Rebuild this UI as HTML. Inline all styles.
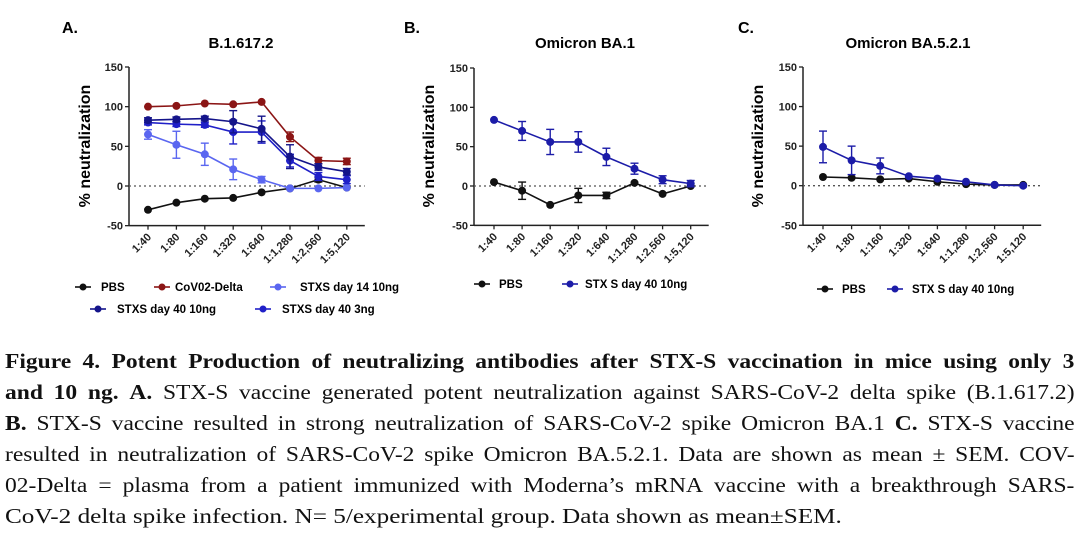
<!DOCTYPE html>
<html><head><meta charset="utf-8">
<style>
body{margin:0;background:#fff;width:1088px;height:560px;overflow:hidden;position:relative;font-family:"Liberation Sans",sans-serif}
svg{position:absolute;left:0;top:0}
.cap{position:absolute;left:5px;font-family:"Liberation Serif",serif;font-size:21px;color:#111;white-space:nowrap}
.j{width:955px;display:flex;justify-content:space-between;transform:scaleX(1.12);transform-origin:0 0}
.last{transform:scaleX(1.2);transform-origin:0 0}
</style></head><body>
<svg id="chart" width="1088" height="340"></svg>
<div class="cap j" style="top:349px"><b>Figure 4.&nbsp; Potent Production of neutralizing antibodies after STX-S vaccination in mice using only 3</b></div>
<div class="cap j" style="top:380px"><b>and 10 ng. A.</b> STX-S vaccine generated potent neutralization against SARS-CoV-2 delta spike (B.1.617.2)</div>
<div class="cap j" style="top:411px"><b>B.</b> STX-S vaccine resulted in strong neutralization of SARS-CoV-2 spike Omicron BA.1 <b>C.</b> STX-S vaccine</div>
<div class="cap j" style="top:442px">resulted in neutralization of SARS-CoV-2 spike Omicron BA.5.2.1. Data are shown as mean ± SEM. COV-</div>
<div class="cap j" style="top:473px">02-Delta = plasma from a patient immunized with Moderna’s mRNA vaccine with a breakthrough SARS-</div>
<div class="cap last" style="top:504px">CoV-2 delta spike infection. N= 5/experimental group. Data shown as mean±SEM.</div>
<script>
document.querySelectorAll('.j').forEach(line=>{
  const words=[];
  line.childNodes.forEach(n=>{
    const bold=n.nodeType===1;
    n.textContent.replace(/\u00a0/g,' ').split(/\s+/).filter(w=>w).forEach(w=>words.push({w,bold}));
  });
  line.innerHTML='';
  words.forEach(o=>{const s=document.createElement(o.bold?'b':'span');s.textContent=o.w;line.appendChild(s);});
});
</script>
<script>
const categories=["1:40","1:80","1:160","1:320","1:640","1:1,280","1:2,560","1:5,120"];
const yTicks=[150,100,50,0,-50];
const aPBS=[-30,-21,-16,-15,-8,-3,8,-2];
const aPBSerr=[2,2,2,2,2,2,3,2];
const aCov=[100,101,104,103,106,62,32,31];
const aCovErr=[2,2,2,2,2,6,4,4];
const aD14=[65,52,40,21,8,-3,-3,-2];
const aD14Err=[6,17,14,13,4,2,2,2];
const aD40h=[83,84,85,81,72,37,24,18];
const aD40hErr=[3,3,3,14,16,15,4,4];
const aD40l=[80,78,77,68,68,32,12,8];
const aD40lErr=[3,3,3,15,14,8,5,5];
const bPBS=[5,-6,-24,-12,-12,4,-10,0];
const bPBSerr=[1,11,1,9,4,1,1,1];
const bSTX=[84,70,56,56,37,22,8,3];
const bSTXerr=[2,12,16,13,11,7,5,4];
const cPBS=[11,10,8,9,5,2,1,1];
const cPBSerr=[1,1,1,1,1,1,1,1];
const cSTX=[49,32,25,12,9,5,1,0];
const cSTXerr=[20,18,10,2,2,1,1,1];

const NS="http://www.w3.org/2000/svg";
const svg=document.getElementById('chart');
function mk(tag,attrs,parent,text){const e=document.createElementNS(NS,tag);for(const k in attrs)e.setAttribute(k,attrs[k]);if(text!==undefined)e.textContent=text;(parent||svg).appendChild(e);return e;}

function panel(p){
  const g=mk('g',{});
  
  
  const y=v=>p.y0-(v*(p.y0-p.y150)/150);
  const x=i=>p.x0+i*p.step;
  const L=mk('text',{x:p.lx,y:33,'font-size':16,'font-weight':'bold'},g,p.letter);
  
  const T=mk('text',{x:p.tx,y:48,'font-size':15,'font-weight':'bold','text-anchor':'middle'},g,p.title);
  
  const ya=mk('line',{x1:p.ax,x2:p.ax,y1:y(150),y2:y(-50),stroke:'#222','stroke-width':1.5},g);
  
  const xa=mk('line',{x1:p.ax,x2:x(7)+18,y1:y(-50),y2:y(-50),stroke:'#222','stroke-width':1.5},g);
  
  yTicks.forEach(t=>{
    mk('line',{x1:p.ax-4,x2:p.ax,y1:y(t),y2:y(t),stroke:'#222','stroke-width':1.3},g);
    const tl=mk('text',{x:p.ax-6,y:y(t)+4,'font-size':11,'font-weight':'bold','text-anchor':'end',fill:'#222'},g,String(t));
    
  });
  const zl=mk('line',{x1:p.ax,x2:x(7)+18,y1:y(0),y2:y(0),stroke:'#555','stroke-width':1.3,'stroke-dasharray':'2,3'},g);
  
  categories.forEach((c,i)=>{
    mk('line',{x1:x(i),x2:x(i),y1:y(-50),y2:y(-50)+4,stroke:'#222','stroke-width':1.3},g);
    const tl=mk('text',{x:x(i)+4,y:y(-50)+12,'font-size':11,'font-weight':'bold','text-anchor':'end',fill:'#222',transform:`rotate(-45 ${x(i)+4} ${y(-50)+12})`},g,c);
    
  });
  const yt=mk('text',{x:p.yx,y:146,'font-size':16,'font-weight':'bold','text-anchor':'middle',transform:`rotate(-90 ${p.yx} 146)`},g,'% neutralization');
  
  p.series.forEach(s=>{
    const sg=mk('g',{},g);
    
    
    mk('polyline',{points:s.v.map((v,i)=>x(i)+','+y(v)).join(' '),fill:'none',stroke:s.c,'stroke-width':1.6},sg);
    s.v.forEach((v,i)=>{
      const e=s.e[i];
      if(e>2){
        mk('line',{x1:x(i),x2:x(i),y1:y(v+e),y2:y(v-e),stroke:s.c,'stroke-width':1.4},sg);
        mk('line',{x1:x(i)-4,x2:x(i)+4,y1:y(v+e),y2:y(v+e),stroke:s.c,'stroke-width':1.4},sg);
        mk('line',{x1:x(i)-4,x2:x(i)+4,y1:y(v-e),y2:y(v-e),stroke:s.c,'stroke-width':1.4},sg);
      }
      const pt=mk('circle',{cx:x(i),cy:y(v),r:4,fill:s.c},sg);
      
      
    });
  });
  p.legend.forEach(l=>{
    const lg=mk('g',{},g);
    
    
    mk('line',{x1:l.mx-8,x2:l.mx+8,y1:l.y,y2:l.y,stroke:l.c,'stroke-width':1.6},lg);
    mk('circle',{cx:l.mx,cy:l.y,r:3.5,fill:l.c},lg);
    mk('text',{x:l.tx,y:l.y+4,'font-size':11.5,'font-weight':'bold'},lg,l.t);
  });
}
const BLK='#111',RED='#8b1515',LB='#5a66f0',NAV='#14148a',MB='#2020c8',STX='#1c1ca8';
panel({id:'a',letter:'A.',lx:62,title:'B.1.617.2',tx:241,ax:129,x0:148,step:28.4,y0:186,y150:67,yx:90,
 series:[{name:'pbs',v:aPBS,e:aPBSerr,c:BLK},{name:'cov02-delta',v:aCov,e:aCovErr,c:RED},{name:'stxs-day14-10ng',v:aD14,e:aD14Err,c:LB},{name:'stxs-day40-3ng',v:aD40l,e:aD40lErr,c:MB},{name:'stxs-day40-10ng',v:aD40h,e:aD40hErr,c:NAV}],
 legend:[{mx:83,tx:101,y:287,c:BLK,t:'PBS'},{mx:162,tx:175,y:287,c:RED,t:'CoV02-Delta'},{mx:278,tx:300,y:287,c:LB,t:'STXS day 14 10ng'},{mx:98,tx:117,y:309,c:NAV,t:'STXS day 40 10ng'},{mx:263,tx:282,y:309,c:MB,t:'STXS day 40 3ng'}]});
panel({id:'b',letter:'B.',lx:404,title:'Omicron BA.1',tx:585,ax:474,x0:494,step:28.1,y0:186,y150:68,yx:434,
 series:[{name:'pbs',v:bPBS,e:bPBSerr,c:BLK},{name:'stx-s-day40-10ng',v:bSTX,e:bSTXerr,c:STX}],
 legend:[{mx:482,tx:499,y:284,c:BLK,t:'PBS'},{mx:570,tx:585,y:284,c:STX,t:'STX S day 40 10ng'}]});
panel({id:'c',letter:'C.',lx:738,title:'Omicron BA.5.2.1',tx:908,ax:803,x0:823,step:28.6,y0:185.7,y150:67,yx:763,
 series:[{name:'pbs',v:cPBS,e:cPBSerr,c:BLK},{name:'stx-s-day40-10ng',v:cSTX,e:cSTXerr,c:STX}],
 legend:[{mx:825,tx:842,y:289,c:BLK,t:'PBS'},{mx:895,tx:912,y:289,c:STX,t:'STX S day 40 10ng'}]});
</script>
</body></html>
